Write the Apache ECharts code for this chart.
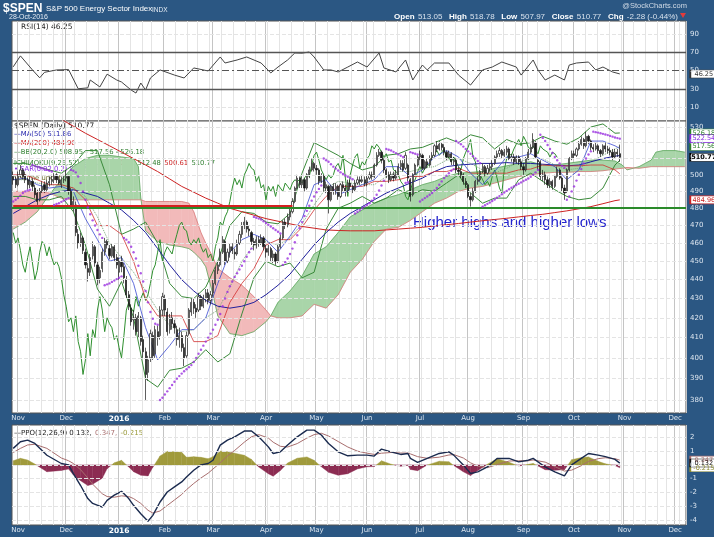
<!DOCTYPE html>
<html lang="en">
<head>
<meta charset="UTF-8">
<title>$SPEN S&amp;P 500 Energy Sector Index</title>
<script src="https://cdn.jsdelivr.net/npm/echarts@6/dist/echarts.min.js"></script>
<style>
    html, body { margin: 0; padding: 0; background: #2b5783; }
    #main { width: 714px; height: 537px; }
</style>
</head>
<body>
<div id="main"></div>
<script>
    // trading calendar (Oct 29 2015 .. Dec 7 2016)
    var startDay = '2015-10-29';
    var holidays = ['2015-11-26', '2015-12-25', '2016-01-01', '2016-01-18', '2016-02-15',
        '2016-03-25', '2016-05-30', '2016-07-04', '2016-09-05', '2016-11-24'];
    var dayCount = 280;

    // daily candles
    var opens = [499,497,494,500,503,500,497,494,496,492, 489,485,490,494,491,495,496,497,500,497,
        494,497,498,499,490,481,482,465,460,463, 455,446,444,453,458,448,441,446,455,461,
        457,453,458,452,444,450,447,440,432,425, 419,420,413,420,409,403,393,400,411,402,
        413,411,424,430,423,414,420,417,414,409, 411,405,401,412,423,428,425,424,431,426,
        430,433,429,433,438,445,448,455,461,450, 455,458,455,454,460,465,470,472,468,466,
        461,459,462,460,463,457,455,457,452,454, 450,458,463,472,470,475,478,484,492,498,
        494,497,492,500,503,507,504,503,496,499, 492,493,485,493,490,493,487,494,492,490,
        495,493,491,495,497,496,497,495,498,500, 499,506,512,514,509,503,500,497,500,498,
        500,505,507,504,506,497,488,500,506,511, 512,504,508,506,510,512,518,516,519,517,
        514,511,513,508,509,503,502,500,496,494, 487,485,490,496,497,502,505,501,504,505,
        507,511,513,515,512,514,516,510,511,508, 511,508,505,503,510,514,517,520,509,508,
        499,500,497,494,496,493,499,503,498,492, 490,503,510,513,512,516,519,522,518,524,
        521,517,516,518,515,513,518,516,515,514, 511,514,513.05];
    var closes = [497,494,500,503,499,497,494,496,493,488, 484,490,493,491,495,496,497,499,497,495,
        497,497,500,490,482,484,466,460,463,456, 448,444,452,458,449,440,445,455,461,459,
        453,458,452,448,450,447,441,432,426,418, 420,413,421,408,403,392,399,412,401,414,
        410,424,431,424,413,420,417,415,409,411, 405,400,411,424,428,425,423,431,426,430,
        433,429,432,438,445,448,455,462,450,455, 458,456,454,460,465,470,472,468,467,461,
        459,462,460,463,458,455,457,452,454,450, 458,463,472,470,475,478,484,492,498,494,
        497,492,500,503,507,504,503,496,499,492, 494,485,493,490,493,487,494,492,490,495,
        493,491,495,497,496,497,495,498,500,499, 506,512,514,509,503,500,497,500,498,500,
        505,507,503,512,498,487,500,506,511,513, 504,508,506,510,512,518,516,519,517,514,
        511,513,508,509,503,502,500,496,494,487, 485,490,496,497,502,505,501,504,505,507,
        511,513,515,512,514,516,510,511,508,511, 508,505,503,510,514,517,522,511,508,499,
        500,497,494,496,493,499,503,498,492,489, 503,510,513,512,516,519,522,518,524,521,
        517,516,518,515,513,518,516,515,514,511, 514,513.05,510.77];
    var lows = [494,492,493,498,497,495,491,492,490,486, 482,484,489,489,490,493,494,495,495,494,
        492,495,496,488,480,478,464,457,458,454, 446,439,442,451,447,437,438,444,453,457,
        451,452,450,446,440,444,438,430,424,416, 414,411,410,406,400,380,389,398,399,400,
        406,409,421,421,411,412,414,412,406,405, 403,396,400,411,421,422,420,423,424,425,
        428,427,427,431,437,443,447,454,448,449, 452,454,451,453,459,463,468,466,464,459,
        456,457,458,459,456,452,453,450,449,448, 449,457,462,468,469,473,477,483,491,492,
        492,490,491,498,502,502,500,494,495,490, 489,477,484,488,488,485,486,490,487,489,
        491,489,490,494,494,495,493,493,497,497, 498,505,511,507,501,498,495,496,496,497,
        499,503,502,503,496,484,487,499,505,509, 503,503,504,505,509,511,514,515,515,512,
        509,510,506,506,501,500,498,494,492,486, 481,484,489,494,496,501,499,500,502,503,
        506,510,511,510,511,512,509,508,506,507, 506,503,500,502,509,513,516,510,503,497,
        496,494,492,492,491,492,498,497,490,485, 489,502,509,510,511,515,518,516,517,519,
        515,514,515,513,511,512,514,513,512,509, 510,511,507.97];
    var highs = [502,499,502,506,504,502,498,499,498,494, 491,492,496,496,497,499,500,501,501,499,
        499,500,503,500,492,487,484,468,466,464, 457,449,454,461,459,450,447,457,463,462,
        459,460,459,454,452,453,449,442,434,427, 424,422,423,421,411,405,401,414,413,416,
        416,426,433,432,425,422,423,419,416,415, 413,407,413,425,430,430,427,433,432,432,
        435,435,434,440,447,450,457,464,462,457, 460,460,457,462,467,472,475,473,470,467,
        463,464,464,465,464,459,459,458,456,455, 459,465,473,474,477,480,486,493,500,499,
        499,498,501,505,510,508,506,504,501,500, 496,494,494,495,495,494,495,496,494,497,
        497,494,497,499,499,500,499,500,502,502, 507,514,516,515,510,504,502,502,502,503,
        507,509,509,514,507,498,501,507,512,515, 513,509,510,512,514,519,521,521,520,519,
        515,515,514,511,510,505,504,501,498,495, 489,492,497,499,503,507,506,506,507,509,
        512,515,517,516,516,518,517,513,513,512, 512,510,507,511,516,519,526,521,510,509,
        503,502,499,498,497,500,505,504,499,494, 504,511,515,515,517,521,524,523,527,525,
        522,519,520,519,516,519,520,518,517,516, 516,516,518.78];

    // parabolic SAR, one dot per day
    var sar = [484,485,486,487.5,489,490,490.5,491,
        506,505.5,505,504.5,504,503.5,503,502.5,502,
        482,482.5,483,483.8,484.5,485.3,486,
        503,502.5,501.5,499,495,490,485,480.5,476.5,473,470,467.5,465,463,
        437,437.5,438,438.8,439.5,440.3,441,441.8,
        463,462,460.5,458,455,451.5,447.5,443.5,439,434,428,423,419.5,417,416.5,
        380,381,382.5,384,385.5,387,388.5,390,391.2,392.4,393.5,394.5,395.5,396.5,398,400,402,404,406,408,
        410,412,414,416.5,419,422,426,430,433.5,436.5,439,441.5,443.5,445.5,447.5,450,452.5,455,457,
        475,474.5,474,473.5,472.5,471.5,470.5,469.5,468.5,467.5,466.5,465.5,
        448,449.5,451.5,454,457,460.5,464.5,468.5,472,475.5,478.5,481.5,484.5,487,489.5,491.5,493.5,
        510,509,508,506.5,505,503.8,502.6,501.5,500.5,499.6,498.8,498,497.3,
        477,478,479,480,481,482,483,484.5,486,488,490.5,493.5,496.5,
        516,515.5,515,514.2,513.4,512.6,511.8,511,
        495,495.5,
        514,513.5,513,512.5,
        484,485,486,487,488,489,490.5,492,494,496,498,499.5,501,502.5,503.5,
        521,520,519,517.5,516,514.5,513,511.5,510,508.5,507.2,
        481,481.8,482.6,483.4,484.3,485.2,486.2,487.2,488.3,489.3,490.3,491.3,492.2,493,493.8,494.6,
        495.4,496.2,497,497.8,498.8,500,501.5,503,
        525,523,521,518.5,516,513.5,511,509,507,505.5,504.3,
        485,487,490,493,496.5,500,503.5,507,510,512.5,514.5,
        527,526.7,526.4,526,525.6,525.2,524.8,524.3,523.8,523.3,522.9,522.54];

    // overlay lines, sampled weekly (day index)
    var lineIdx = [0,5,10,15,20,25,30,35,40,45,50,55,60,65,70,75,80,85,90,95,100,105,110,115,120,
        125,130,135,140,145,150,155,160,165,170,175,180,185,190,195,200,205,210,215,220,225,230,235,
        240,245,250,252];
    var ma50 = [477,481,485,488,490,491,489,487,483,479,473,466,457,448,440,434,429,426,425,426,
        428,432,437,443,451,459,466,472,477,481,485,489,492,495,498,502,505,506,506.5,507,
        507,507.5,507,507,506.5,506,505.5,506,508,510,511.5,511.86];
    var ma200 = [546,543.5,541,538,535,530.5,526,522,518,514,510,506,502,497.5,493,489.5,486,483,480,478,
        476,474,472.5,471,469.5,468.5,467.5,467.2,467,467,467,467.5,468,468.5,469,469.8,470.5,471.2,472,472.8,
        473.5,474.2,475,475.8,476.5,477.5,478.5,479.7,481,482.7,484.5,484.96];
    var bbUpper = [507,507,505,503,501,506,515,515,494,465,468,472,460,438,431,430,436,450,470,478,
        477,472,471,477,501,520,516,512,507,503,505,512,513,516,517,520,523,520,525,523,
        516,522,519,520,524,521,519,523,530,532,526,526.18];
    var bbMid = [497,497,495,494,494,492,487,475,460,452,444,434,424,416,413,414,420,424,436,450,
        459,461,459,463,471,482,492,496,495,494,494,499,502,502,504,505,509,510,507,503,
        501,504,508,510,510,506,503,504,508,512,516,517.56];
    var bbLower = [487,487,485,485,487,478,459,435,426,439,420,390,386,394,395,398,404,398,402,422,
        441,450,447,449,441,444,468,480,483,487,483,486,491,488,491,490,495,500,489,483,
        486,486,497,501,496,491,487,485,486,492,506,508.95];
    var tenkan = [497,498,494,492,493,490,474,462,450,452,438,415,399,406,414,414,420,438,455,462,
        465,462,455,464,474,494,497,488,491,494,497,505,505,499,503,511,515,511,501,494,
        502,511,511,513,509,505,497,503,521,521,518,516.35];
    var kijun = [500,500,497,494,494,492,485,470,470,465,450,430,421,421,421,408,408,411,428,438,
        446,459,462,462,469,479,487,493,493,493,496,496,497,499,499,502,502,504,501,501,
        501,501,503,503.5,506,505.5,505.5,505.5,506,506,503,500.61];

    // ichimoku cloud (already shifted 26 days ahead)
    var cloudIdx = [0,5,10,15,20,25,30,35,40,45,50,52,53,55,60,65,70,73,75,78,80,83,85,90,95,
        100,105,107,110,115,120,125,130,135,140,145,150,155,160,165,170,175,180,185,190,
        195,200,205,210,215,220,225,230,235,240,245,250,253,255,260,265,267,270,275,279];
    var spanA = [468,472,478,488,497,505,510,512,512,511,510,505,486,467,461,459,458,457,455,451,
        447,432,421,412,411,413,418,421,428,434,442,454,458,466,475,479,483,486,488,491,
        494,496,499,501,501.5,502,504,505.5,507,508,506,506,507,508,509,509,508.5,506,503,505,
        509,514,515,515,514];
    var spanB = [490,490,490,489,486,485,485,485,485,485,485,485,485,484,484,484,484,483,478,466,
        460,452,446,441,437,431,424,421,420,420,421,427,425,432,444,451,461,468,469,473,
        478,483,486,490,492,493,495,497,499,500,501,501.5,501.5,502,502,502.5,503.5,504,504.5,504,
        505,505,505,505,505];
    var chikouShift = 26;

    // RSI(14)
    var rsiIdx = [0,3,8,11,13,18,23,27,31,32,36,39,43,45,49,51,53,55,57,61,67,71,75,81,86,88,93,97,
        103,107,110,114,117,120,123,125,129,132,135,139,143,147,152,154,159,163,166,170,172,175,
        181,185,190,195,199,203,209,211,216,218,221,225,229,231,234,239,242,245,249,252];
    var rsi = [54,66,50.6,42,48,50.6,51,30,31,39.6,32,46,39.6,37.4,28.6,25.3,36.3,28.6,41.8,50.6,
        45,41.8,52.8,49.5,64.8,58.2,61.5,64.8,58.2,47.3,53.8,61.5,69.2,69,70.3,64.8,50.6,50.6,48.4,53.8,
        59.3,53.8,69.2,52.8,48.4,61.5,39.6,56,50.6,58.2,58.2,45,34.1,50.6,53.8,59.3,53.8,45,61.5,50.6,
        39.6,45,39.6,56,58.2,59.3,50.6,53.8,48.4,46.25];

    // PPO(12,26,9)
    var ppoIdx = [0,3,6,9,14,20,23,25,28,31,33,37,39,42,45,48,50,53,56,58,61,64,67,70,72,75,78,81,83,86,
        89,92,96,99,102,106,108,111,114,118,122,125,128,131,135,139,143,147,150,153,157,161,164,165,168,
        172,177,181,183,187,190,193,197,201,206,210,214,216,221,225,229,232,236,239,243,246,250,252];
    var ppo = [1.2,1.68,1.8,1.56,0.7,0.1,0,-0.63,-1.5,-2.45,-2.8,-3.07,-2.58,-2.2,-1.92,-2.45,-2.94,-3.55,-4.1,-3.67,
        -2.7,-1.97,-1.6,-1.24,-0.88,-0.39,0,0.1,0.34,1.44,1.8,2.04,2.46,2.46,2.04,1.31,0.83,0.95,1.44,2.04,
        2.53,2.53,2.17,1.56,0.95,0.66,0.71,0.71,0.64,1.15,0.95,0.76,0.83,0.47,0.18,0.47,0.83,0.95,0.71,0,
        -0.63,-0.51,-0.15,0.47,0.47,0.22,0.34,0.47,-0.15,-0.51,-0.8,0,0.47,0.83,0.71,0.6,0.4,0.132];
    var ppoSignal = [0.9,1.2,1.45,1.5,1.2,0.5,0.3,0.1,-0.35,-0.95,-1.4,-2.1,-2.3,-2.35,-2.25,-2.3,-2.45,-2.8,-3.3,-3.5,
        -3.35,-2.95,-2.55,-2.15,-1.8,-1.35,-0.95,-0.6,-0.3,0.15,0.65,1.05,1.65,2.05,2.2,1.95,1.65,1.35,1.3,1.55,
        1.95,2.2,2.3,2.1,1.7,1.3,1,0.85,0.76,0.85,0.9,0.86,0.86,0.8,0.6,0.48,0.56,0.72,0.75,0.5,
        0.15,-0.1,-0.2,0.02,0.28,0.3,0.3,0.36,0.2,-0.12,-0.45,-0.38,-0.06,0.25,0.45,0.52,0.45,0.347];
    var ppoHist = [0.3,0.48,0.35,0.06,-0.5,-0.4,-0.3,-0.73,-1.15,-1.5,-1.4,-0.97,-0.28,0.15,0.33,-0.15,-0.49,-0.75,-0.8,-0.17,
        0.65,0.98,0.95,0.91,0.55,0.6,0.55,0.45,0.6,1.0,0.95,0.85,0.7,0.4,-0.16,-0.64,-0.82,-0.4,0.14,0.49,
        0.58,0.33,-0.13,-0.54,-0.75,-0.64,-0.29,-0.14,-0.12,0.3,0.05,-0.1,-0.03,-0.33,-0.42,-0.01,0.27,0.23,-0.04,-0.5,
        -0.78,-0.41,0.05,0.45,0.19,-0.08,0.04,0.11,-0.35,-0.39,-0.35,0.38,0.53,0.58,0.26,0.08,-0.05,-0.215];

    // axis tick labels
    var rsiTicks = [10, 30, 50, 70, 90];
    var priceTicks = [380, 390, 400, 410, 420, 430, 440, 450, 460, 470, 480, 490, 500, 510, 520, 530];
    var ppoTicks = [-4, -3, -2, -1, 0, 1, 2];

    // drawn support lines
    var supportLevel = 480.2;
    var redLevel = 481.3;
    var redEndIdx = 116;

    // ---- build
    var dates = [];
    var d = new Date(startDay + 'T00:00:00Z');
    while (dates.length < dayCount) {
        var s = d.toISOString().slice(0, 10);
        var wd = d.getUTCDay();
        if (wd !== 0 && wd !== 6 && holidays.indexOf(s) < 0) dates.push(s);
        d.setUTCDate(d.getUTCDate() + 1);
    }
    var monthNames = ['Jan', 'Feb', 'Mar', 'Apr', 'May', 'Jun', 'Jul', 'Aug', 'Sep', 'Oct', 'Nov', 'Dec'];
    function isMonthStart(i) {
        return i > 0 && dates[i].slice(5, 7) !== dates[i - 1].slice(5, 7);
    }
    function isWeekStart(i) {
        if (i === 0) return false;
        var a = new Date(dates[i - 1] + 'T00:00:00Z').getUTCDay();
        var b = new Date(dates[i] + 'T00:00:00Z').getUTCDay();
        return b <= a;
    }
    function monthLabel(v) {
        var m = +v.slice(5, 7);
        return m === 1 ? '{b|' + v.slice(0, 4) + '}' : monthNames[m - 1];
    }
    function pairs(idx, vals) {
        return idx.map(function (x, k) { return [x, vals[k]]; });
    }
    function bandData(idx, a, b) {
        var out = [];
        for (var k = 0; k < idx.length - 1; k++) {
            out.push([idx[k], a[k], b ? b[k] : 0, idx[k + 1], a[k + 1], b ? b[k + 1] : 0]);
        }
        return out;
    }
    function bandRender(upColor, downColor) {
        return function (params, api) {
            var i0 = api.value(0), a0 = api.value(1), b0 = api.value(2);
            var i1 = api.value(3), a1 = api.value(4), b1 = api.value(5);
            var pa0 = api.coord([i0, a0]), pb0 = api.coord([i0, b0]);
            var pa1 = api.coord([i1, a1]), pb1 = api.coord([i1, b1]);
            var d0 = a0 - b0, d1 = a1 - b1;
            var kids = [];
            function poly(pts, up) {
                var c = up ? upColor : downColor;
                kids.push({type: 'polygon', shape: {points: pts}, style: {fill: c, stroke: c, lineWidth: 0.4}});
            }
            if (d0 * d1 >= 0) {
                poly([pa0, pa1, pb1, pb0], d0 + d1 >= 0);
            } else {
                var t = d0 / (d0 - d1);
                var pc = [pa0[0] + t * (pa1[0] - pa0[0]), pa0[1] + t * (pa1[1] - pa0[1])];
                poly([pa0, pc, pb0], d0 > 0);
                poly([pc, pa1, pb1], d1 > 0);
            }
            return {type: 'group', children: kids};
        };
    }
    function dayAxis(g, labels) {
        return {
            type: 'category', gridIndex: g, data: dates, boundaryGap: true,
            axisLine: {show: false}, axisTick: {show: false},
            axisLabel: {
                show: labels, interval: function (i) { return isMonthStart(i); },
                formatter: monthLabel, color: '#dde6f0', fontSize: 7, fontFamily: 'DejaVu Sans', margin: 2,
                rich: {b: {fontWeight: 'bold', color: '#ffffff', fontSize: 7.5, fontFamily: 'DejaVu Sans'}}
            },
            splitLine: {show: true, interval: function (i) { return isWeekStart(i); }, lineStyle: {color: '#e4e4e4', width: 1}}
        };
    }
    function monthAxis(g) {
        return {
            type: 'category', gridIndex: g, data: dates, boundaryGap: true,
            axisLine: {show: false}, axisTick: {show: false}, axisLabel: {show: false},
            splitLine: {show: true, interval: function (i) { return isMonthStart(i); }, lineStyle: {color: '#c4c4c4', width: 1}}
        };
    }
    function hiddenY(g, type, min, max) {
        var ax = {type: type, gridIndex: g, min: min, max: max, position: 'right',
            axisLine: {show: false}, axisTick: {show: false}, axisLabel: {show: false}, splitLine: {show: false}};
        if (type === 'log') ax.logBase = 10;
        return ax;
    }
    function levelSeries(x, y, ticks, anchor, styleFor) {
        return {
            type: 'line', xAxisIndex: x, yAxisIndex: y, data: [[0, anchor]], symbol: 'none', silent: true, z: 1,
            lineStyle: {opacity: 0},
            markLine: {
                silent: true, symbol: ['none', 'none'], animation: false,
                data: ticks.map(function (v) {
                    return {
                        yAxis: v, lineStyle: styleFor(v),
                        label: {show: true, position: 'end', formatter: String(v), color: '#dde6f0',
                            fontSize: 7, fontFamily: 'DejaVu Sans', distance: 4}
                    };
                })
            }
        };
    }
    function valueTag(v, text, color, bold) {
        return {
            symbol: 'rect', symbolSize: [27, 8], symbolOffset: [19, 0], silent: true, animation: false,
            itemStyle: {color: '#ffffff', borderColor: color, borderWidth: 1},
            label: {show: true, position: 'inside', color: color, fontSize: 6.5, fontFamily: 'DejaVu Sans',
                fontWeight: bold ? 'bold' : 'normal', formatter: text},
            data: [{coord: [dayCount - 1, v]}]
        };
    }
    function overlay(name, idx, vals, color, width, type, tag) {
        var sr = {
            name: name, type: 'line', xAxisIndex: 2, yAxisIndex: 1, data: pairs(idx, vals), symbol: 'none',
            z: 3, lineStyle: {color: color, width: width, type: type || 'solid'}
        };
        if (tag) sr.markPoint = tag;
        return sr;
    }

    var candles = closes.map(function (c, i) { return [opens[i], c, lows[i], highs[i]]; });
    var chikou = [];
    for (var i = 0; i + chikouShift < closes.length; i++) chikou.push([i, closes[i + chikouShift]]);
    var sarPts = sar.map(function (v, i) { return [i, v]; });
    var last = closes.length - 1;

    var lightGrid = {color: '#e4e4e4', width: 1};
    var font = 'DejaVu Sans';
    var legendTop = 122, legendStep = 8.8;

    var option = {
        animation: false,
        backgroundColor: '#2b5783',
        grid: [
            {left: 12, top: 21, width: 674, height: 100, show: true, backgroundColor: '#ffffff', borderColor: '#555', borderWidth: 1},
            {left: 12, top: 121, width: 674, height: 292, show: true, backgroundColor: '#ffffff', borderColor: '#555', borderWidth: 1},
            {left: 12, top: 425, width: 674, height: 100, show: true, backgroundColor: '#ffffff', borderColor: '#555', borderWidth: 1}
        ],
        xAxis: [dayAxis(0, false), monthAxis(0), dayAxis(1, true), monthAxis(1), dayAxis(2, true), monthAxis(2)],
        yAxis: [hiddenY(0, 'value', -5.3, 104.2), hiddenY(1, 'log', 374, 533.9), hiddenY(2, 'value', -4.37, 2.9)],
        series: [
            levelSeries(0, 0, rsiTicks, 50, function (v) {
                if (v === 70 || v === 30) return {color: '#555555', width: 1.3, type: 'solid'};
                if (v === 50) return {color: '#555555', width: 1, type: [7, 3, 2, 3]};
                return lightGrid;
            }),
            levelSeries(2, 1, priceTicks, 450, function () { return lightGrid; }),
            levelSeries(4, 2, ppoTicks, 0, function () { return lightGrid; }),

            // ichimoku cloud
            {
                type: 'custom', xAxisIndex: 2, yAxisIndex: 1, z: 2, silent: true, clip: true,
                renderItem: bandRender('#a9d5a9', '#f2baba'),
                encode: {x: [0, 3], y: [1, 2, 4, 5]},
                data: bandData(cloudIdx, spanA, spanB)
            },
            overlay('Span A', cloudIdx, spanA, '#5fa85f', 0.8),
            overlay('Span B', cloudIdx, spanB, '#d87a7a', 0.8),
            {type: 'line', xAxisIndex: 2, yAxisIndex: 1, data: chikou, symbol: 'none', z: 3,
                lineStyle: {color: '#2f8f2f', width: 1}},
            overlay('BB upper', lineIdx, bbUpper, '#3a8a3a', 1, 'solid', valueTag(526.18, '526.18', '#2f7f2f')),
            overlay('BB lower', lineIdx, bbLower, '#3a8a3a', 1),
            overlay('BB mid', lineIdx, bbMid, '#7aa87a', 1, 'dotted', valueTag(517.56, '517.56', '#2f7f2f')),
            overlay('MA200', lineIdx, ma200, '#cc2222', 1, 'solid', valueTag(484.96, '484.96', '#cc2222')),
            overlay('MA50', lineIdx, ma50, '#1f1f9c', 1),
            overlay('Kijun', lineIdx, kijun, '#d03030', 0.8),
            overlay('Tenkan', lineIdx, tenkan, '#3848d0', 0.8),

            // drawn horizontal lines
            {
                type: 'line', xAxisIndex: 2, yAxisIndex: 1, data: [[0, supportLevel]], symbol: 'none', z: 3,
                lineStyle: {opacity: 0}, silent: true,
                markLine: {
                    silent: true, symbol: ['none', 'none'], animation: false, label: {show: false},
                    data: [
                        [{coord: [0, redLevel], lineStyle: {color: '#d42020', width: 2, type: 'solid'}},
                            {coord: [redEndIdx, redLevel]}],
                        {yAxis: supportLevel, lineStyle: {color: '#2a8a2a', width: 2, type: 'solid'}}
                    ]
                }
            },

            {
                type: 'candlestick', xAxisIndex: 2, yAxisIndex: 1, data: candles, z: 4, barWidth: '70%',
                itemStyle: {color: '#ffffff', color0: '#1a1a1a', borderColor: '#1a1a1a', borderColor0: '#1a1a1a', borderWidth: 0.7},
                markPoint: valueTag(closes[last], '510.77', '#000000', true)
            },
            {
                type: 'scatter', xAxisIndex: 2, yAxisIndex: 1, data: sarPts, z: 5, symbolSize: 2.4,
                itemStyle: {color: '#9a30e0'}, silent: true,
                markPoint: valueTag(sar[last], '522.54', '#8a2be2')
            },

            // RSI
            {
                type: 'line', xAxisIndex: 0, yAxisIndex: 0, data: pairs(rsiIdx, rsi), symbol: 'none', z: 3,
                lineStyle: {color: '#444444', width: 1},
                markPoint: valueTag(46.25, '46.25', '#333333')
            },

            // PPO
            {
                type: 'custom', xAxisIndex: 4, yAxisIndex: 2, z: 2, silent: true, clip: true,
                renderItem: bandRender('#a09a3c', '#8c2c52'),
                encode: {x: [0, 3], y: [1, 2, 4, 5]},
                data: bandData(ppoIdx, ppoHist, null),
                markPoint: valueTag(-0.215, '-0.215', '#8a8a30')
            },
            {
                type: 'line', xAxisIndex: 4, yAxisIndex: 2, data: pairs(ppoIdx, ppoSignal), symbol: 'none', z: 3,
                lineStyle: {color: '#a86e6e', width: 1},
                markPoint: valueTag(0.347, '0.347', '#a86e6e')
            },
            {
                type: 'line', xAxisIndex: 4, yAxisIndex: 2, data: pairs(ppoIdx, ppo), symbol: 'none', z: 4,
                lineStyle: {color: '#1b2b4f', width: 1.4},
                markPoint: valueTag(0.132, '0.132', '#111111')
            }
        ],
        graphic: [
            {type: 'text', x: 3, y: 3, style: {text: '$SPEN', font: 'bold 12px "Liberation Sans", Arial, sans-serif', fill: '#ffffff'}},
            {type: 'text', x: 46, y: 5, style: {text: 'S&P 500 Energy Sector Index', font: '8px "Liberation Sans", Arial, sans-serif', fill: '#ffffff'}},
            {type: 'text', x: 152, y: 6.5, style: {text: 'INDX', font: '6.5px "Liberation Sans", Arial, sans-serif', fill: '#e4ebf3'}},
            {type: 'text', x: 9, y: 13.5, style: {text: '28-Oct-2016', font: '7px "Liberation Sans", Arial, sans-serif', fill: '#e4ebf3'}},
            {type: 'text', x: 687, y: 2, style: {text: '@StockCharts.com', font: '7.5px "Liberation Sans", Arial, sans-serif',
                fill: '#d0dae6', align: 'right', textAlign: 'right'}},
            {type: 'text', x: 678, y: 11, style: {
                text: '{l|Open} {v|513.05}  {l|High} {v|518.78}  {l|Low} {v|507.97}  {l|Close} {v|510.77}  {l|Chg} {v|-2.28 (-0.44%)}',
                align: 'right', textAlign: 'right',
                rich: {
                    l: {fontWeight: 'bold', fontSize: 8, fontFamily: 'Liberation Sans', fill: '#ffffff', color: '#ffffff'},
                    v: {fontSize: 8, fontFamily: 'Liberation Sans', fill: '#d6e0ec', color: '#d6e0ec'}
                }
            }},
            {type: 'polygon', shape: {points: [[680, 13], [686, 13], [683, 18]]}, style: {fill: '#e23b3b'}},

            {type: 'text', x: 21, y: 23, style: {text: 'RSI(14) 46.25', font: '7.5px "DejaVu Sans"', fill: '#222222'}},

            {type: 'text', x: 14, y: legendTop, style: {text: '$SPEN (Daily) 510.77', font: '7.5px "DejaVu Sans"', fill: '#111111'}},
            {type: 'text', x: 14, y: legendTop + legendStep, style: {text: '\u2014MA(50) 511.86', font: '6.8px "DejaVu Sans"', fill: '#2222aa'}},
            {type: 'text', x: 14, y: legendTop + 2 * legendStep, style: {text: '\u2014MA(200) 484.96', font: '6.8px "DejaVu Sans"', fill: '#cc2222'}},
            {type: 'text', x: 14, y: legendTop + 3 * legendStep, style: {text: '\u2014BB(20,2.0) 508.95 - 517.56 - 526.18', font: '6.8px "DejaVu Sans"', fill: '#2f7f2f'}},
            {type: 'text', x: 14, y: legendTop + 4 * legendStep, style: {
                text: '{g|ICHIMOKU(9,26,52)} {b|516.35} {r|500.61} {g|512.48} {r|500.61} {g|510.77}',
                rich: {
                    g: {fontSize: 6.8, fontFamily: font, fill: '#2f7f2f', color: '#2f7f2f'},
                    b: {fontSize: 6.8, fontFamily: font, fill: '#3848d0', color: '#3848d0'},
                    r: {fontSize: 6.8, fontFamily: font, fill: '#cc2222', color: '#cc2222'}
                }
            }},
            {type: 'text', x: 14, y: legendTop + 5 * legendStep, style: {text: '\u2022 SAR(0.02,0.2) 522.54', font: '6.8px "DejaVu Sans"', fill: '#8a2be2'}},
            {type: 'text', x: 14, y: legendTop + 6 * legendStep, style: {text: 'Volume undef', font: '6.8px "DejaVu Sans"', fill: '#6b6b26'}},

            {type: 'text', x: 413, y: 215, style: {text: 'Higher highs and higher lows',
                font: '15px "Liberation Sans", Arial, sans-serif', fill: '#2323cc'}},

            {type: 'text', x: 14, y: 427, style: {
                text: '{k|\u2014PPO(12,26,9) 0.132,} {s|0.347,} {o|-0.215}',
                rich: {
                    k: {fontSize: 7, fontFamily: font, fill: '#222222', color: '#222222'},
                    s: {fontSize: 7, fontFamily: font, fill: '#a86e6e', color: '#a86e6e'},
                    o: {fontSize: 7, fontFamily: font, fill: '#9a9a3a', color: '#9a9a3a'}
                }
            }}
        ]
    };

    var myChart = echarts.init(document.getElementById('main'));
    myChart.setOption(option);
</script>
</body>
</html>
